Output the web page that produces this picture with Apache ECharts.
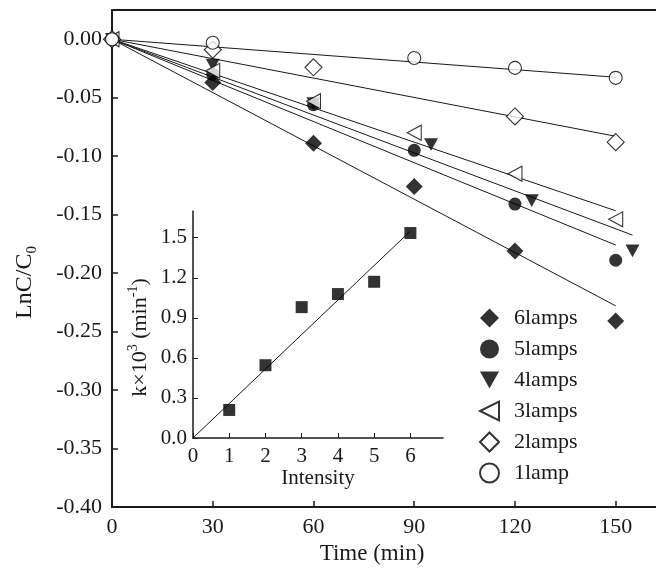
<!DOCTYPE html>
<html>
<head>
<meta charset="utf-8">
<script src="https://cdn.jsdelivr.net/npm/echarts@6/dist/echarts.min.js"></script>
<style>
  html, body { margin: 0; padding: 0; background: #fff; }
  #chart { width: 656px; height: 581px; }
</style>
</head>
<body>
<div id="chart"></div>
<script>
// main plot: LnC/C0 vs time
const time = [0, 30, 60, 90, 120, 150]
const time4 = [0, 30, 60, 95, 125, 155] // 4lamps points are shifted a bit in the figure
const lamps6 = [0, -0.037, -0.089, -0.126, -0.181, -0.241]
const lamps5 = [0, -0.030, -0.056, -0.095, -0.141, -0.189]
const lamps4 = [0, -0.022, -0.055, -0.090, -0.138, -0.181]
const lamps3 = [0, -0.027, -0.053, -0.080, -0.115, -0.154]
const lamps2 = [0, -0.009, -0.024, null, -0.066, -0.088]
const lamps1 = [0, -0.003, null, -0.016, -0.0245, -0.033]

// fitted lines (start / end)
const fit6 = [[0, 0], [150, -0.228]]
const fit5 = [[0, 0], [150, -0.176]]
const fit4 = [[0, 0], [155, -0.1675]]
const fit3 = [[0, 0], [150, -0.1467]]
const fit2 = [[0, 0], [150, -0.083]]
const fit1 = [[0, 0], [150, -0.0325]]

// inset: k vs intensity
const intensity = [1, 2, 3, 4, 5, 6]
const kValues = [0.21, 0.545, 0.98, 1.078, 1.17, 1.535]
const kFit = [[0, 0], [6, 1.55]]

const legendNames = ['6lamps', '5lamps', '4lamps', '3lamps', '2lamps', '1lamp']

const font = 'Liberation Serif, Times New Roman, serif'
const ink = '#1a1a1a'

const pairs = (xs, ys) => xs.map((x, i) => (ys[i] == null ? null : [x, ys[i]])).filter(Boolean)

const fitLine = (data, xi, yi) => ({
  type: 'line',
  xAxisIndex: xi,
  yAxisIndex: yi,
  data: data,
  symbol: 'none',
  silent: true,
  lineStyle: { color: ink, width: 1 },
  z: 1,
})

const dots = (name, data, symbol, size, filled) => ({
  name: name,
  type: 'scatter',
  xAxisIndex: 0,
  yAxisIndex: 0,
  data: data,
  symbol: symbol,
  symbolSize: size,
  symbolKeepAspect: true,
  itemStyle: filled
    ? { color: '#000' }
    : { color: '#fff', borderColor: '#000', borderWidth: 1.1 },
  z: 3,
})

const chart = echarts.init(document.getElementById('chart'))

const option = {
  backgroundColor: '#fff',
  animation: false,
  textStyle: { fontFamily: font },
  grid: [
    { left: 112, top: 10, right: 0, bottom: 74 },
    { left: 193, top: 211, width: 250, height: 227 },
  ],
  legend: {
    orient: 'vertical',
    left: 474,
    top: 302,
    itemWidth: 19,
    itemHeight: 19,
    itemGap: 9,
    symbolKeepAspect: true,
    data: legendNames,
    textStyle: { fontFamily: font, fontSize: 22, color: ink, lineHeight: 22, padding: [0, 0, 0, 10] },
  },
  xAxis: [
    {
      type: 'value',
      gridIndex: 0,
      min: 0,
      max: 162,
      interval: 30,
      name: 'Time (min)',
      nameLocation: 'middle',
      nameGap: 33,
      nameTextStyle: { fontFamily: font, fontSize: 23, color: ink, padding: [0, 24, 0, 0] },
      axisLine: { onZero: false, lineStyle: { color: ink, width: 2 } },
      axisTick: { inside: true, length: 6, lineStyle: { color: ink, width: 1.5 } },
      axisLabel: { fontFamily: font, fontSize: 22, color: ink, margin: 9, showMaxLabel: false },
      splitLine: { show: false },
    },
    {
      // top frame line
      type: 'value',
      gridIndex: 0,
      position: 'top',
      min: 0,
      max: 162,
      axisLine: { onZero: false, lineStyle: { color: ink, width: 2 } },
      axisTick: { show: false },
      axisLabel: { show: false },
      splitLine: { show: false },
    },
    {
      type: 'value',
      gridIndex: 1,
      min: 0,
      max: 6.9,
      interval: 1,
      name: 'Intensity',
      nameLocation: 'middle',
      nameGap: 29,
      nameTextStyle: { fontFamily: font, fontSize: 21, color: ink },
      axisLine: { onZero: false, lineStyle: { color: ink, width: 1.5 } },
      axisTick: { inside: true, length: 5, lineStyle: { color: ink } },
      axisLabel: { fontFamily: font, fontSize: 21, color: ink, margin: 8, showMaxLabel: false },
      splitLine: { show: false },
    },
  ],
  yAxis: [
    {
      type: 'value',
      gridIndex: 0,
      min: -0.4,
      max: 0.025,
      interval: 0.05,
      name: 'LnC/C{sub|0}',
      nameLocation: 'middle',
      nameGap: 72,
      nameRotate: 90,
      nameTextStyle: {
        fontFamily: font, fontSize: 24, color: ink, lineHeight: 30, padding: [0, 48, 0, 0],
        rich: { sub: { fontFamily: font, fontSize: 15, color: ink, lineHeight: 14, verticalAlign: 'bottom' } },
      },
      axisLine: { onZero: false, lineStyle: { color: ink, width: 2 } },
      axisTick: { inside: true, length: 6, lineStyle: { color: ink, width: 1.5 } },
      axisLabel: {
        fontFamily: font, fontSize: 22, color: ink, margin: 10, showMaxLabel: false,
        formatter: (v) => v.toFixed(2),
      },
      splitLine: { show: false },
    },
    {
      type: 'value',
      gridIndex: 1,
      min: 0,
      max: 1.7,
      interval: 0.3,
      name: 'k×10{sup|3} (min{sup|-1})',
      nameLocation: 'middle',
      nameGap: 39,
      nameRotate: 90,
      nameTextStyle: {
        fontFamily: font, fontSize: 22, color: ink, lineHeight: 28, padding: [0, 26, 0, 0],
        rich: { sup: { fontFamily: font, fontSize: 14, color: ink, lineHeight: 12, verticalAlign: 'top' } },
      },
      axisLine: { onZero: false, lineStyle: { color: ink, width: 1.5 } },
      axisTick: { inside: true, length: 5, lineStyle: { color: ink } },
      axisLabel: {
        fontFamily: font, fontSize: 21, color: ink, margin: 6, showMaxLabel: false,
        formatter: (v) => v.toFixed(1),
      },
      splitLine: { show: false },
    },
  ],
  series: [
    fitLine(fit6, 0, 0),
    fitLine(fit5, 0, 0),
    fitLine(fit4, 0, 0),
    fitLine(fit3, 0, 0),
    fitLine(fit2, 0, 0),
    fitLine(fit1, 0, 0),
    dots('6lamps', pairs(time, lamps6), 'diamond', 17, true),
    dots('5lamps', pairs(time, lamps5), 'circle', 13, true),
    dots('4lamps', pairs(time4, lamps4), 'path://M0,0 L10,0 L5,9 Z', [14, 14], true),
    dots('3lamps', pairs(time, lamps3), 'path://M10,0 L10,10 L0,5 Z', [14, 15], false),
    dots('2lamps', pairs(time, lamps2), 'diamond', 17, false),
    dots('1lamp', pairs(time, lamps1), 'circle', 13, false),
    fitLine(kFit, 2, 1),
    {
      type: 'scatter',
      xAxisIndex: 2,
      yAxisIndex: 1,
      data: pairs(intensity, kValues),
      symbol: 'rect',
      symbolSize: 12,
      itemStyle: { color: '#000' },
      z: 3,
    },
  ],
}

chart.setOption(option)
</script>
</body>
</html>
